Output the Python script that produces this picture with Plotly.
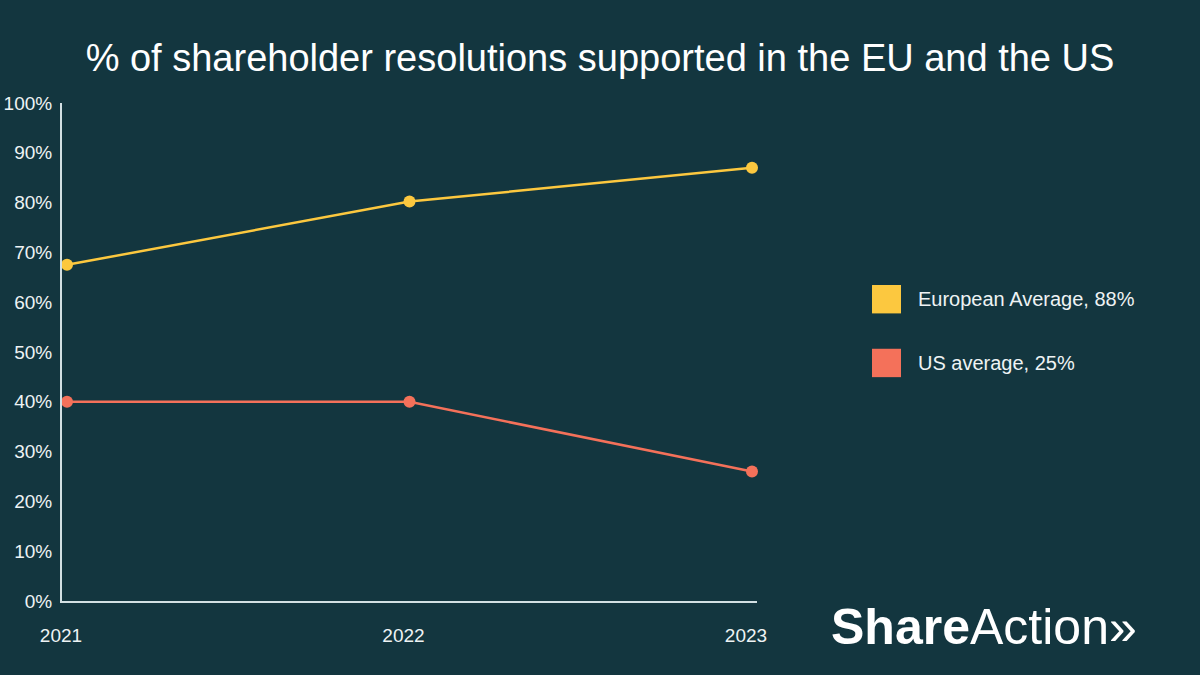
import plotly.graph_objects as go

years = [2021, 2022, 2023]
europe = [67.5, 80.2, 87.0]
us = [40.0, 40.0, 26.0]
y_ticks = [0, 10, 20, 30, 40, 50, 60, 70, 80, 90, 100]
y_labels = [f"{v}%" for v in y_ticks]
legend_names = ["European Average, 88%", "US average, 25%"]
colors = ["#fcc83f", "#f4715a"]

BG = "#13363f"
AX = "#d3e0e3"
FONT = "Liberation Sans, Arial, sans-serif"
TXT = "#eef3f4"

fig = go.Figure()
fig.add_trace(go.Scatter(x=years, y=europe, mode="lines+markers",
                         line=dict(color=colors[0], width=2.5),
                         marker=dict(color=colors[0], size=12), name=legend_names[0],
                         cliponaxis=False))
fig.add_trace(go.Scatter(x=years, y=us, mode="lines+markers",
                         line=dict(color=colors[1], width=2.5),
                         marker=dict(color=colors[1], size=12), name=legend_names[1],
                         cliponaxis=False))

# custom legend
leg_y = [0.606, 0.478]
for name, col, yy in zip(legend_names, colors, leg_y):
    fig.add_shape(type="rect", xref="paper", yref="paper",
                  x0=1.1655, x1=1.2072, y0=yy - 0.0285, y1=yy + 0.0285,
                  fillcolor=col, line=dict(color=col, width=0))
    fig.add_annotation(text=name, xref="paper", yref="paper", x=1.2288, y=yy,
                       xanchor="left", yanchor="middle", showarrow=False,
                       font=dict(family=FONT, size=20, color=TXT))

# logo
fig.add_annotation(text="<b>Share</b>Action»", xref="paper", yref="paper",
                   x=1.103, y=-0.052, xanchor="left", yanchor="middle", showarrow=False,
                   font=dict(family=FONT, size=50, color="#ffffff"))

fig.update_layout(
    width=1200, height=675,
    paper_bgcolor=BG, plot_bgcolor=BG,
    margin=dict(l=62, r=443, t=103, b=74),
    showlegend=False,
    title=dict(text="% of shareholder resolutions supported in the EU and the US",
               x=0.5, xanchor="center", y=0.915, yanchor="middle",
               font=dict(family=FONT, size=38, color="#ffffff")),
    font=dict(family=FONT, color=TXT),
)
fig.update_xaxes(range=[2021 - 0.0146, 2023 + 0.0146], tickvals=years,
                 ticktext=[str(y) for y in years], showgrid=False, zeroline=False,
                 showline=True, linecolor=AX, linewidth=2, ticks="",
                 ticklabelstandoff=16, ticklabelshift=-6, automargin=False,
                 tickfont=dict(family=FONT, size=19, color=TXT))
fig.update_yaxes(range=[0, 100], tickvals=y_ticks, ticktext=y_labels,
                 showgrid=False, zeroline=False, showline=True, linecolor=AX,
                 linewidth=2, ticks="", ticklabelstandoff=4, automargin=False,
                 tickfont=dict(family=FONT, size=19, color=TXT))

fig.write_html("out.html", config={"displayModeBar": False},
               post_script="document.body.style.margin='0';document.body.style.overflow='hidden';")
